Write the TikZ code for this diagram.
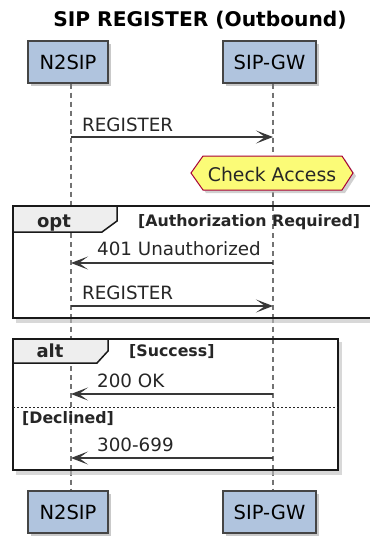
\documentclass[tikz,border=0pt]{standalone}
\usepackage{fontspec}
\setmainfont{DejaVu Sans}
\usetikzlibrary{arrows.meta,shadows}
\definecolor{partfill}{HTML}{B0C4DE}
\definecolor{partline}{HTML}{454545}
\definecolor{msgline}{HTML}{383838}
\definecolor{hexfill}{HTML}{FBFB77}
\definecolor{hexline}{HTML}{A80036}
\definecolor{tabfill}{HTML}{EEEEEE}
\begin{document}
\begin{tikzpicture}[x=1pt,y=-1pt,
  shad/.style={drop shadow={shadow xshift=3pt,shadow yshift=-3pt,opacity=0.35,fill=black!60}},
  part/.style={draw=partline,fill=partfill,line width=1.3pt,minimum width=80pt,minimum height=42pt,inner sep=0pt,font=\fontsize{19.5}{22}\selectfont,shad},
  part2/.style={part,minimum width=93pt},
  life/.style={draw=black!55,line width=1.3pt,dash pattern=on 5pt off 4pt},
  msg/.style={draw=msgline,line width=1.1pt,-{Stealth[length=17pt,width=13pt,inset=9pt]}},
  lbl/.style={font=\fontsize{18.3}{20}\selectfont,anchor=base west,inner sep=0pt,text=black!85},
  frame/.style={draw=black!90,line width=2.6pt},
  guard/.style={font=\bfseries\fontsize{15.8}{18}\selectfont,anchor=base west,inner sep=0pt,text=black!85}
]
\useasboundingbox (0,0) rectangle (370,539);
\fill[white] (0,0) rectangle (370,539);
% title
\node[font=\bfseries\fontsize{20.2}{24}\selectfont,anchor=base] (title) at (200,26) {SIP REGISTER (Outbound)};
% participants
\node[part] (a1) at (68,62) {N2SIP};
\node[part2] (b1) at (269.5,62) {SIP-GW};
\node[part] (a2) at (68,512) {N2SIP};
\node[part2] (b2) at (269.5,512) {SIP-GW};
\coordinate (la) at (71,0);
\coordinate (lb) at (273,0);
\draw[life] (la |- a1.south) -- (la |- a2.north);
\draw[life] (lb |- b1.south) -- (lb |- b2.north);
% frames (drawn behind messages)
\fill[black!25,opacity=0.6] (16,209) rectangle (380,323);
\fill[white] (13,206) rectangle (380,318);
\fill[black!25,opacity=0.6] (16,342) rectangle (342,475);
\fill[white] (13,339) rectangle (338,470);
% redraw lifelines over frame fills
\draw[life] (71,206) -- (71,318);
\draw[life] (273,206) -- (273,318);
\draw[life] (71,339) -- (71,470);
\draw[life] (273,339) -- (273,470);
% opt frame
\path[fill=tabfill,draw=black!90,line width=1.5pt] (13,206) -- (117,206) -- (117,221) -- (102,232) -- (13,232);
\draw[frame] (380,206) -- (13,206) -- (13,318) -- (380,318);
\node[font=\bfseries\fontsize{18}{20}\selectfont,anchor=base,inner sep=0pt,text=black!85] (opt) at (54,227) {opt};
\node[guard] (g1) at (138,226) {[Authorization Required]};
% alt frame
\path[fill=tabfill,draw=black!90,line width=1.5pt] (13,339) -- (108,339) -- (108,351) -- (97,363) -- (13,363);
\draw[frame] (13,339) rectangle (338,470);
\node[font=\bfseries\fontsize{18}{20}\selectfont,anchor=base,inner sep=0pt,text=black!85] (alt) at (50,357) {alt};
\node[guard] (g2) at (129,356) {[Success]};
\draw[black!85,line width=1pt,dash pattern=on 2pt off 2pt] (13,407) -- (338,407);
\node[guard] (g3) at (22,423) {[Declined]};
% messages
\coordinate (m1a) at (71,137); \coordinate (m1b) at (273,137);
\draw[msg] (m1a) -- (m1b);
\node[lbl] (t1) at (82,131) {REGISTER};
% hexagon
\path[fill=black!30,opacity=0.6,shift={(3,3)}] (191,173) -- (203,156) -- (342,156) -- (353,173) -- (342,190) -- (203,190) -- cycle;
\path[fill=hexfill,draw=hexline,line width=1pt] (191,173) -- (203,156) -- (342,156) -- (353,173) -- (342,190) -- (203,190) -- cycle;
\node[font=\fontsize{18.8}{20}\selectfont,text=black!85] (chk) at (272,174) {Check Access};
\coordinate (m2a) at (71,263); \coordinate (m2b) at (273,263);
\draw[msg] (m2b) -- (m2a);
\node[lbl] (t2) at (97,255) {401 Unauthorized};
\coordinate (m3a) at (71,306); \coordinate (m3b) at (273,306);
\draw[msg] (m3a) -- (m3b);
\node[lbl] (t3) at (82,299) {REGISTER};
\coordinate (m4a) at (71,394); \coordinate (m4b) at (273,394);
\draw[msg] (m4b) -- (m4a);
\node[lbl] (t4) at (97,387) {200 OK};
\coordinate (m5a) at (71,458); \coordinate (m5b) at (273,458);
\draw[msg] (m5b) -- (m5a);
\node[lbl] (t5) at (97,451) {300-699};
\end{tikzpicture}
\end{document}
